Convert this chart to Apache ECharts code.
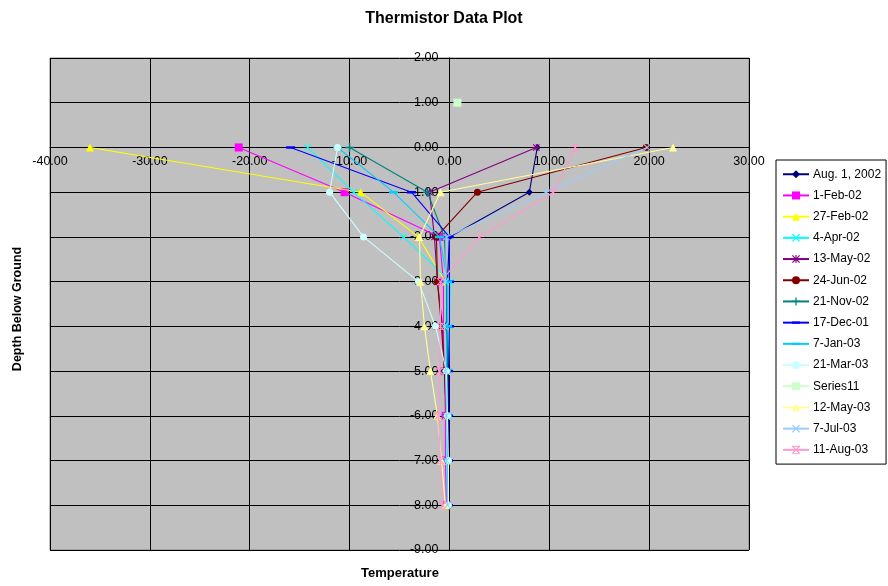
<!DOCTYPE html>
<html>
<head>
<meta charset="utf-8">
<script src="https://cdn.jsdelivr.net/npm/echarts@6/dist/echarts.min.js"></script>
<style>
html,body{margin:0;padding:0;background:#fff;}
#chart{width:888px;height:586px;}
</style>
</head>
<body>
<div id="chart"></div>
<script>
// Depths (y values) below ground
const depths = [0, -1, -2, -3, -4, -5, -6, -7, -8];

// Temperatures per survey date (x values), one per depth
const aug1_2002 = [8.8, 8.0, 0.0, -0.2, -0.2, -0.2, -0.1, -0.1, -0.1];
const feb1_02   = [-21.1, -10.5, -1.0, -0.6, -0.6, -0.5, -0.4, -0.4, -0.3];
const feb27_02  = [-36.0, -8.9, -3.1, -0.4, -0.3, -0.3, -0.3, -0.2, -0.2];
const apr4_02   = [-14.2, -9.6, -4.6, 0.1, 0.0, -0.1, -0.1, -0.1, -0.1];
const may13_02  = [8.7, -2.0, -1.5, -1.2, -0.7, -0.5, -0.3, -0.3, -0.2];
const jun24_02  = [19.7, 2.8, -1.3, -1.2, -0.8, -0.5, -0.3, -0.2, -0.1];
const nov21_02  = [-10.0, -2.2, -0.5, -0.3, -0.3, -0.2, -0.2, -0.1, -0.1];
const dec17_01  = [-15.9, -3.8, 0.0, 0.0, 0.0, -0.1, -0.1, -0.1, -0.1];
const jan7_03   = [-11.2, -5.6, -1.0, -0.2, -0.2, -0.3, -0.2, -0.2, -0.2];
const mar21_03  = [-11.2, -12.0, -8.6, -3.1, -1.4, -0.3, -0.2, -0.1, -0.1];
const series11X = [0.8];
const series11Y = [1.0];
const may12_03  = [22.4, -0.9, -3.0, -2.9, -2.5, -1.9, -1.2, -0.8, -0.4];
const jul7_03   = [19.8, 9.7, -0.3, -0.4, -0.5, -0.4, -0.3, -0.3, -0.2];
const aug11_03  = [12.6, 10.4, 3.0, -0.9, -0.9, -1.0, -1.1, -0.9, -0.7];

const seriesNames = ['Aug. 1, 2002','1-Feb-02','27-Feb-02','4-Apr-02','13-May-02','24-Jun-02','21-Nov-02','17-Dec-01','7-Jan-03','21-Mar-03','Series11','12-May-03','7-Jul-03','11-Aug-03'];
const seriesTemps = [aug1_2002, feb1_02, feb27_02, apr4_02, may13_02, jun24_02, nov21_02, dec17_01, jan7_03, mar21_03, series11X, may12_03, jul7_03, aug11_03];
const seriesDepths = [depths, depths, depths, depths, depths, depths, depths, depths, depths, depths, series11Y, depths, depths, depths];
const seriesColors = ['#000080','#FF00FF','#FFFF00','#00FFFF','#800080','#800000','#008080','#0000FF','#00CCFF','#CCFFFF','#CCFFCC','#FFFF99','#99CCFF','#FF99CC'];

const X_SYM = 'path://M0,1L1,0L5,4L9,0L10,1L6,5L10,9L9,10L5,6L1,10L0,9L4,5Z';
const STAR_SYM = 'path://M0,1L1,0L4.3,3.3L4.3,0L5.7,0L5.7,3.3L9,0L10,1L6.7,4.3L10,4.3L10,5.7L6.7,5.7L10,9L9,10L5.7,6.7L5.7,10L4.3,10L4.3,6.7L1,10L0,9L3.3,5.7L0,5.7L0,4.3L3.3,4.3Z';
const PLUS_SYM = 'path://M4.2,0H5.8V4.2H10V5.8H5.8V10H4.2V5.8H0V4.2H4.2Z';
const X_BAR_SYM = 'path://M0,1L1,0L5,4L9,0L10,1L6,5L10,9L9,10L5,6L1,10L0,9L4,5Z M0,0H10V1.2H0Z M0,8.8H10V10H0Z';
const DASH_SYM = 'path://M0,0H0.01V0.01H0Z M0,3.6H10V6.4H0Z M9.99,9.99H10V10H9.99Z';
const symbols = ['diamond','rect','triangle',X_SYM,STAR_SYM,'circle',PLUS_SYM,DASH_SYM,DASH_SYM,'circle','rect','triangle',X_SYM,X_BAR_SYM];
const symbolSizes = [7,8,8,7,7,7,9,9,9,7,8,8,7,7];

const series = seriesNames.map((name, i) => ({
  name: name,
  type: 'line',
  data: seriesTemps[i].map((t, k) => [t, seriesDepths[i][k]]),
  symbol: symbols[i],
  symbolSize: symbolSizes[i],
  symbolKeepAspect: true,
  showAllSymbol: true,
  color: seriesColors[i],
  lineStyle: { width: 1.1, color: seriesColors[i] },
  itemStyle: { color: seriesColors[i] },
  emphasis: { disabled: true },
  animation: false,
  z: 3 + i
}));

const fmt = v => v.toFixed(2);
const FONT = '"Liberation Sans", Arial, sans-serif';

// grid geometry (pixels)
const G_LEFT = 50, G_RIGHT = 139, G_TOP = 58, G_BOTTOM = 36, W = 888, H = 586;
const X_MIN = -40, X_MAX = 30, Y_MIN = -9, Y_MAX = 2;
const plotW = W - G_LEFT - G_RIGHT, plotH = H - G_TOP - G_BOTTOM;
// place the axes where the other axis is zero (Excel style crossing)
const xAxisOffset = -(plotH * (0 - Y_MIN) / (Y_MAX - Y_MIN));
const yAxisOffset = -(plotW * (0 - X_MIN) / (X_MAX - X_MIN));

const chart = echarts.init(document.getElementById('chart'), null, { renderer: 'canvas' });
chart.setOption({
  animation: false,
  backgroundColor: '#ffffff',
  textStyle: { fontFamily: FONT },
  title: {
    text: 'Thermistor Data Plot',
    left: 'center', top: 6,
    textStyle: { fontFamily: FONT, fontSize: 16, fontWeight: 'bold', color: '#000' }
  },
  grid: {
    left: G_LEFT, right: G_RIGHT, top: G_TOP, bottom: G_BOTTOM,
    show: true, backgroundColor: '#C0C0C0', borderColor: '#808080', borderWidth: 1
  },
  xAxis: {
    type: 'value', min: X_MIN, max: X_MAX, interval: 10,
    position: 'bottom', offset: xAxisOffset,
    axisLine: { show: true, onZero: false, lineStyle: { color: '#000', width: 1 } },
    axisTick: { show: false },
    axisLabel: { formatter: fmt, fontSize: 12.5, color: '#000', margin: 8, fontFamily: FONT, showMinLabel: true, showMaxLabel: true },
    splitLine: { show: true, lineStyle: { color: '#000', width: 1 } }
  },
  yAxis: {
    type: 'value', min: Y_MIN, max: Y_MAX, interval: 1,
    position: 'left', offset: yAxisOffset,
    axisLine: { show: true, onZero: false, lineStyle: { color: '#000', width: 1 } },
    axisTick: { show: true, length: 4, lineStyle: { color: '#000' } },
    axisLabel: { formatter: fmt, fontSize: 12.5, color: '#000', margin: 11, fontFamily: FONT, showMinLabel: true, showMaxLabel: true },
    splitLine: { show: true, lineStyle: { color: '#000', width: 1 } }
  },
  legend: {
    orient: 'vertical',
    left: 776, top: 160,
    padding: [8, 5, 8, 6],
    itemGap: 8.7,
    itemWidth: 26, itemHeight: 10,
    backgroundColor: '#ffffff',
    borderColor: '#000', borderWidth: 1,
    textStyle: { fontSize: 12, lineHeight: 12.5, color: '#000', fontFamily: FONT, padding: [0, 0, 0, -1] },
    data: seriesNames
  },
  graphic: [
    { type: 'text', x: 400, y: 573, style: { text: 'Temperature', font: 'bold 13px ' + FONT, fill: '#000', align: 'center', verticalAlign: 'middle' } },
    { type: 'text', x: 18, y: 309, rotation: Math.PI / 2, style: { text: 'Depth Below Ground', font: 'bold 12.5px ' + FONT, fill: '#000', align: 'center', verticalAlign: 'middle' } }
  ],
  series: series
});
</script>
</body>
</html>
